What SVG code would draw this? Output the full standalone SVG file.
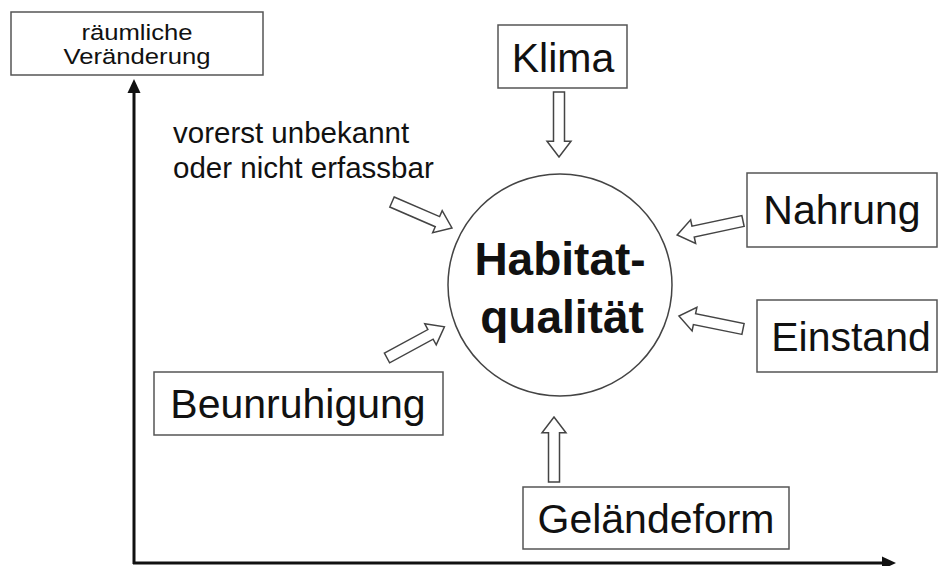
<svg xmlns="http://www.w3.org/2000/svg" width="938" height="566" viewBox="0 0 938 566">
<style>
.box{fill:#fff;stroke:#555;stroke-width:1.5}
.t{font-family:"Liberation Sans",Arial,sans-serif;fill:#111;text-anchor:middle}
.big{font-size:41px}
.ha{fill:#fff;stroke:#444;stroke-width:1.5;stroke-linejoin:miter}
.axis{stroke:#111;stroke-width:3;fill:none}
</style>
<defs>
<path id="harrow" d="M0,-5.5 L50,-5.5 L50,-12 L66,0 L50,12 L50,5.5 L0,5.5 Z"/>
</defs>
<rect width="938" height="566" fill="#fff"/>
<g id="axes">
<line class="axis" x1="134" y1="564" x2="134" y2="90"/>
<path d="M134,79 L127.5,93 L140.5,93 Z" fill="#111"/>
<line class="axis" x1="133" y1="563" x2="884" y2="563"/>
<path d="M896,563 L882,556.5 L882,569.5 Z" fill="#111"/>
</g>
<g id="connectors">
<use href="#harrow" class="ha" transform="translate(559,92) rotate(90) scale(0.985,1)"/>
<use href="#harrow" class="ha" transform="translate(743,221) rotate(168) scale(1.02,1)"/>
<use href="#harrow" class="ha" transform="translate(743,329) rotate(191.5) scale(0.99,1)"/>
<use href="#harrow" class="ha" transform="translate(554,482) rotate(-90) scale(0.985,1)"/>
<use href="#harrow" class="ha" transform="translate(387,358) rotate(-28.5) scale(0.99,1)"/>
<use href="#harrow" class="ha" transform="translate(392,202) rotate(23.4) scale(0.99,1)"/>
</g>
<g id="raeumliche">
<rect class="box" x="11" y="12" width="252" height="63"/>
<g transform="translate(137,0) scale(1.14,1)">
<text class="t" x="0" y="40" font-size="22.5">räumliche</text>
<text class="t" x="0" y="64" font-size="22.5">Veränderung</text>
</g>
</g>
<g id="unbekannt">
<text class="t" x="173" y="143" font-size="29.5" style="text-anchor:start">vorerst unbekannt</text>
<text class="t" x="173" y="178" font-size="29.5" style="text-anchor:start">oder nicht erfassbar</text>
</g>
<g id="klima">
<rect class="box" x="498" y="25" width="129" height="63"/>
<text class="t big" x="563" y="72">Klima</text>
</g>
<g id="habitat">
<ellipse cx="560" cy="285" rx="112" ry="111" fill="#fff" stroke="#444" stroke-width="1.5"/>
<text class="t" x="560" y="275" font-size="46" font-weight="bold">Habitat-</text>
<text class="t" x="562" y="333" font-size="46" font-weight="bold">qualität</text>
</g>
<g id="nahrung">
<rect class="box" x="747" y="173" width="190" height="74"/>
<text class="t big" x="842" y="224">Nahrung</text>
</g>
<g id="einstand">
<rect class="box" x="757" y="300" width="180" height="72"/>
<text class="t big" x="851" y="351">Einstand</text>
</g>
<g id="gelaendeform">
<rect class="box" x="523" y="487" width="266" height="62"/>
<text class="t big" x="656" y="533">Geländeform</text>
</g>
<g id="beunruhigung">
<rect class="box" x="154" y="372" width="289" height="63"/>
<text class="t big" x="298" y="418">Beunruhigung</text>
</g>
</svg>
